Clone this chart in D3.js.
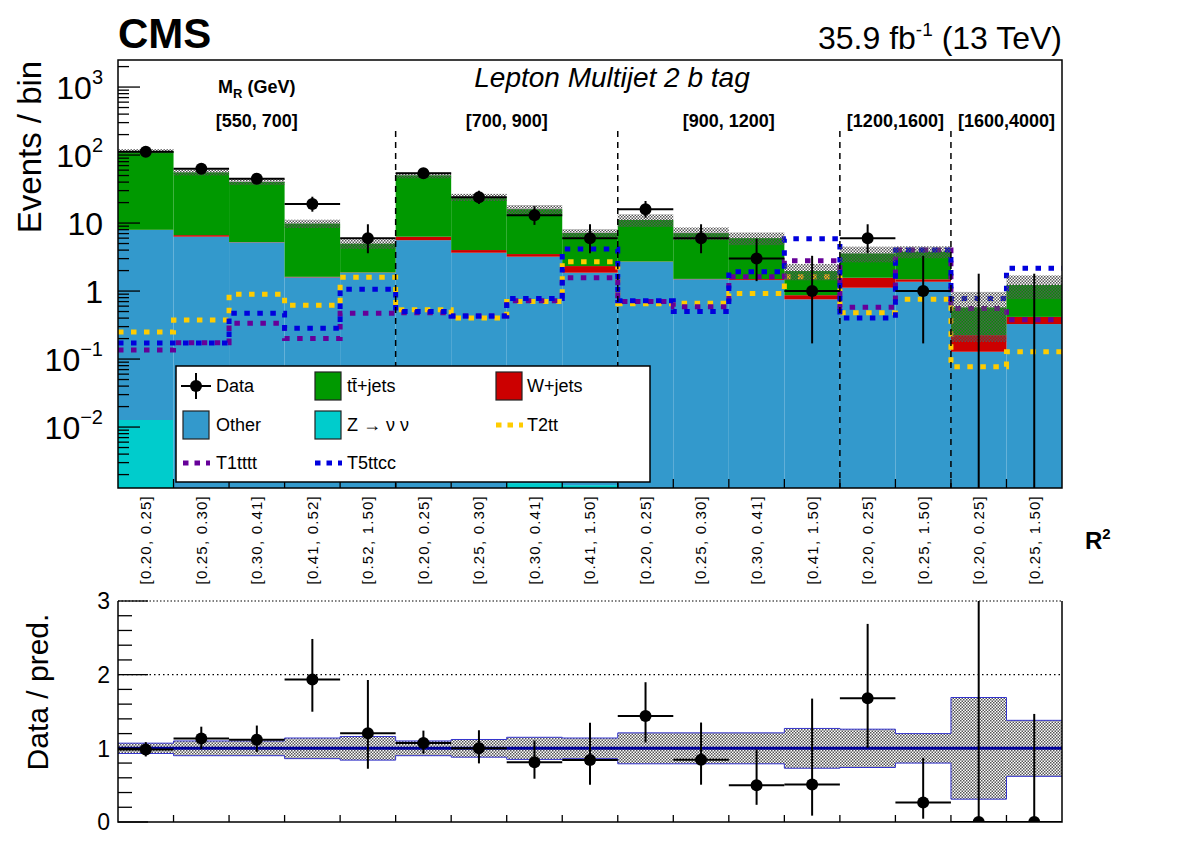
<!DOCTYPE html>
<html>
<head>
<meta charset="utf-8">
<script src="https://cdn.jsdelivr.net/npm/d3@7"></script>
<style>
body { margin: 0; background: #fff; }
text { font-family: "Liberation Sans", Arial, Helvetica, sans-serif; }
</style>
</head>
<body>
<script>
var w = 1182;
var h = 848;

// R^2 bin labels, 17 bins in 5 M_R ranges
var binLabels = ["[0.20, 0.25]", "[0.25, 0.30]", "[0.30, 0.41]", "[0.41, 0.52]", "[0.52, 1.50]",
                 "[0.20, 0.25]", "[0.25, 0.30]", "[0.30, 0.41]", "[0.41, 1.50]",
                 "[0.20, 0.25]", "[0.25, 0.30]", "[0.30, 0.41]", "[0.41, 1.50]",
                 "[0.20, 0.25]", "[0.25, 1.50]",
                 "[0.20, 0.25]", "[0.25, 1.50]"];
var mrLabels = ["[550, 700]", "[700, 900]", "[900, 1200]", "[1200,1600]", "[1600,4000]"];
var mrFirstBin = [0, 5, 9, 13, 15];

// background stack (events / bin)
var zNuNu  = [0.0127, 0, 0, 0, 0, 0, 0, 0.0015, 0.0014, 0, 0, 0, 0, 0, 0, 0, 0];
var other  = [7.9, 6.3, 5.2, 1.59, 1.86, 5.6, 3.66, 3.2, 1.86, 2.7, 1.49, 1.45, 0.755, 1.12, 1.37, 0.128, 0.327];
var wJets  = [0.05, 0.35, 0.05, 0.03, 0.02, 0.7, 0.35, 0.3, 0.47, 0.02, 0.02, 0.05, 0.115, 0.45, 0.12, 0.097, 0.09];
var ttJets = [106, 49, 35, 8.2, 3.1, 44, 20, 12.5, 4.8, 8.4, 5.6, 4.5, 1.1, 2.0, 2.3, 0.35, 0.81];
// relative uncertainty of the prediction
var bkgRelErr = [0.07, 0.1, 0.1, 0.14, 0.16, 0.1, 0.12, 0.15, 0.14, 0.21, 0.21, 0.21, 0.27, 0.26, 0.2, 0.69, 0.38];

// data
var data      = [112, 63, 45, 19, 6, 54, 24, 13, 6, 16, 6, 3, 1, 6, 1, 0, 0];
var dataErrLo = [10.6, 7.9, 6.7, 4.3, 2.4, 7.3, 4.9, 3.6, 2.4, 4.0, 2.4, 1.6, 0.83, 2.4, 0.83, 0, 0];
var dataErrHi = [11.6, 9.0, 7.7, 5.4, 3.6, 8.4, 5.9, 4.7, 3.6, 5.1, 3.6, 2.9, 2.3, 3.6, 2.3, 1.8, 1.8];

// signals
var t2tt   = [0.249, 0.375, 0.90, 0.62, 1.59, 0.53, 0.40, 0.70, 2.7, 0.65, 0.66, 0.92, 1.62, 0.48, 0.755, 0.077, 0.128];
var t1tttt = [0.136, 0.174, 0.335, 0.20, 0.47, 0.48, 0.43, 0.72, 1.57, 0.70, 0.59, 1.62, 2.79, 0.58, 4.0, 0.556, 0.38];
var t5ttcc = [0.172, 0.172, 0.47, 0.283, 1.06, 0.50, 0.43, 0.78, 4.15, 0.72, 0.50, 1.92, 5.9, 0.40, 4.0, 0.78, 2.16];

var nb = binLabels.length;
var left = 118, right = 1062;
var top1 = 60, bot1 = 488;
var top2 = 601, bot2 = 822;
var yMin = 0.00127, yMax = 2500;

var colors = { z: "#00cccc", other: "#3399cc", w: "#cc0000", tt: "#009900",
               t2tt: "#ffcc00", t1tttt: "#660099", t5ttcc: "#0000dd" };

// scales
var xScale = d3.scaleLinear().domain([0, nb]).range([left, right]);
var yScale = d3.scaleLog().domain([yMin, yMax]).range([bot1, top1]).clamp(true);
var rScale = d3.scaleLinear().domain([0, 3]).range([bot2, top2]).clamp(true);
function yv(v) { return v > yMin ? yScale(v) : bot1; }

var svg = d3.select("body").append("svg")
    .attr("width", w).attr("height", h);

var defs = svg.append("defs");
defs.append("clipPath").attr("id", "clipTop").append("rect")
    .attr("x", left).attr("y", top1).attr("width", right - left).attr("height", bot1 - top1);
defs.append("clipPath").attr("id", "clipBot").append("rect")
    .attr("x", left).attr("y", top2).attr("width", right - left).attr("height", bot2 - top2);
var pat = defs.append("pattern").attr("id", "hatch").attr("patternUnits", "userSpaceOnUse")
    .attr("width", 3).attr("height", 3);
pat.append("rect").attr("x", 0).attr("y", 0).attr("width", 1.5).attr("height", 1.5).attr("fill", "#555");
pat.append("rect").attr("x", 1.5).attr("y", 1.5).attr("width", 1.5).attr("height", 1.5).attr("fill", "#555");

// ---------- top panel ----------
var table = binLabels.map(function(l, i) {
    return { bin: i, z: zNuNu[i], other: other[i], w: wJets[i], tt: ttJets[i] };
});
var series = d3.stack().keys(["z", "other", "w", "tt"])(table);
var total = table.map(function(d) { return d.z + d.other + d.w + d.tt; });

var gTop = svg.append("g").attr("clip-path", "url(#clipTop)");

gTop.selectAll("g.layer")
    .data(series)
    .enter().append("g")
    .attr("class", "layer")
    .attr("fill", function(s) { return colors[s.key]; })
    .selectAll("rect")
    .data(function(s) { return s.filter(function(d) { return d[1] > yMin && d[1] > d[0]; }); })
    .enter().append("rect")
    .attr("x", function(d) { return xScale(d.data.bin); })
    .attr("width", function(d) { return xScale(d.data.bin + 1) - xScale(d.data.bin); })
    .attr("y", function(d) { return yv(d[1]); })
    .attr("height", function(d) { return yv(d[0]) - yv(d[1]); });

// signal step lines
function stepPoints(vals) {
    var pts = [];
    vals.forEach(function(v, i) {
        pts.push([xScale(i), yv(v)]);
        pts.push([xScale(i + 1), yv(v)]);
    });
    return pts;
}
var line = d3.line();
[["t2tt", t2tt], ["t1tttt", t1tttt], ["t5ttcc", t5ttcc]].forEach(function(s) {
    gTop.append("path")
        .attr("d", line(stepPoints(s[1])))
        .attr("fill", "none")
        .attr("stroke", colors[s[0]])
        .attr("stroke-width", 5)
        .attr("stroke-dasharray", "5.5,7.5");
});

// prediction uncertainty
gTop.selectAll("rect.unc")
    .data(total)
    .enter().append("rect")
    .attr("class", "unc")
    .attr("x", function(d, i) { return xScale(i); })
    .attr("width", function(d, i) { return xScale(i + 1) - xScale(i); })
    .attr("y", function(d, i) { return yv(d * (1 + bkgRelErr[i])); })
    .attr("height", function(d, i) { return yv(d * (1 - bkgRelErr[i])) - yv(d * (1 + bkgRelErr[i])); })
    .attr("fill", "url(#hatch)");

// M_R dividers
svg.selectAll("line.div")
    .data(mrFirstBin.slice(1))
    .enter().append("line")
    .attr("x1", function(d) { return xScale(d); })
    .attr("x2", function(d) { return xScale(d); })
    .attr("y1", 131).attr("y2", bot1)
    .attr("stroke", "#000").attr("stroke-width", 1.5)
    .attr("stroke-dasharray", "6,5");

// data points
var gData = gTop.append("g").attr("stroke", "#000").attr("stroke-width", 2);
data.forEach(function(d, i) {
    var cx = xScale(i + 0.5);
    gData.append("line")
        .attr("x1", cx).attr("x2", cx)
        .attr("y1", yv(d - dataErrLo[i])).attr("y2", yv(d + dataErrHi[i]));
    if (d > 0) {
        gData.append("line")
            .attr("x1", xScale(i)).attr("x2", xScale(i + 1))
            .attr("y1", yv(d)).attr("y2", yv(d));
        gData.append("circle")
            .attr("cx", cx).attr("cy", yv(d)).attr("r", 6)
            .attr("fill", "#000").attr("stroke", "none");
    }
});

// y axis ticks (log)
var yTicks = [];
for (var k = -3; k <= 3; k++) {
    for (var m = 1; m <= 9; m++) {
        var v = m * Math.pow(10, k);
        if (v >= yMin && v <= yMax) yTicks.push({ v: v, major: m === 1, k: k });
    }
}
svg.selectAll("line.ytick")
    .data(yTicks)
    .enter().append("line")
    .attr("x1", left)
    .attr("x2", function(d) { return left + (d.major ? 22 : 11); })
    .attr("y1", function(d) { return yScale(d.v); })
    .attr("y2", function(d) { return yScale(d.v); })
    .attr("stroke", "#000").attr("stroke-width", 1.3);

var yLab = svg.selectAll("text.ylab")
    .data(yTicks.filter(function(d) { return d.major; }))
    .enter().append("text")
    .attr("x", 103)
    .attr("y", function(d) { return yScale(d.v); })
    .attr("dy", "0.36em")
    .attr("text-anchor", "end")
    .attr("font-size", 32);
yLab.each(function(d) {
    var t = d3.select(this);
    if (d.k === 0) { t.text("1"); return; }
    if (d.k === 1) { t.text("10"); return; }
    t.append("tspan").text("10");
    t.append("tspan").attr("font-size", 20).attr("dy", "-0.75em")
        .text(d.k < 0 ? "\u2212" + (-d.k) : d.k);
});

// x ticks, top panel
svg.selectAll("line.xtick1")
    .data(d3.range(1, nb))
    .enter().append("line")
    .attr("x1", function(d) { return xScale(d); })
    .attr("x2", function(d) { return xScale(d); })
    .attr("y1", bot1).attr("y2", bot1 - 9)
    .attr("stroke", "#000").attr("stroke-width", 1.3);

// frame
svg.append("rect")
    .attr("x", left).attr("y", top1).attr("width", right - left).attr("height", bot1 - top1)
    .attr("fill", "none").attr("stroke", "#000").attr("stroke-width", 1.5);

// bin labels
svg.selectAll("text.binlab")
    .data(binLabels)
    .enter().append("text")
    .attr("transform", function(d, i) { return "translate(" + xScale(i + 0.5) + ",495) rotate(-90)"; })
    .attr("dy", "0.36em")
    .attr("text-anchor", "end")
    .attr("font-size", 15)
    .attr("letter-spacing", 1.2)
    .text(function(d) { return d; });

// M_R labels
var mrTitle = svg.append("text")
    .attr("x", xScale(2.5)).attr("y", 93)
    .attr("text-anchor", "middle").attr("font-size", 18).attr("font-weight", "bold");
mrTitle.append("tspan").text("M");
mrTitle.append("tspan").attr("font-size", 13).attr("dy", 5).text("R");
mrTitle.append("tspan").attr("dy", -5).text(" (GeV)");

svg.selectAll("text.mr")
    .data(mrLabels)
    .enter().append("text")
    .attr("x", function(d, i) {
        var end = i + 1 < mrFirstBin.length ? mrFirstBin[i + 1] : nb;
        return xScale((mrFirstBin[i] + end) / 2);
    })
    .attr("y", 127)
    .attr("text-anchor", "middle")
    .attr("font-size", 18).attr("font-weight", "bold")
    .text(function(d) { return d; });

// titles
svg.append("text").attr("x", left).attr("y", 48)
    .attr("font-size", 42).attr("font-weight", "bold").text("CMS");
var lumi = svg.append("text").attr("x", right).attr("y", 49)
    .attr("text-anchor", "end").attr("font-size", 32);
lumi.append("tspan").text("35.9 fb");
lumi.append("tspan").attr("font-size", 19).attr("dy", -13).text("-1");
lumi.append("tspan").attr("dy", 13).text(" (13 TeV)");

svg.append("text").attr("x", 612).attr("y", 87)
    .attr("text-anchor", "middle").attr("font-size", 28).attr("font-style", "italic")
    .text("Lepton Multijet 2 b tag");

svg.append("text")
    .attr("transform", "translate(41,147) rotate(-90)")
    .attr("text-anchor", "middle").attr("font-size", 33)
    .text("Events / bin");

var r2 = svg.append("text").attr("x", 1085).attr("y", 549)
    .attr("font-size", 24).attr("font-weight", "bold");
r2.append("tspan").text("R");
r2.append("tspan").attr("font-size", 15).attr("dy", -10).text("2");

// legend
var leg = svg.append("g");
leg.append("rect").attr("x", 176).attr("y", 366).attr("width", 474).attr("height", 116)
    .attr("fill", "#fff").attr("stroke", "#000").attr("stroke-width", 1.5);
var legItems = [
    { label: "Data", type: "data", col: 0, row: 0 },
    { label: "tt\u0304+jets", type: "box", color: colors.tt, col: 1, row: 0 },
    { label: "W+jets", type: "box", color: colors.w, col: 2, row: 0 },
    { label: "Other", type: "box", color: colors.other, col: 0, row: 1 },
    { label: "Z \u2192 \u03bd \u03bd", type: "box", color: colors.z, col: 1, row: 1 },
    { label: "T2tt", type: "line", color: colors.t2tt, col: 2, row: 1 },
    { label: "T1tttt", type: "line", color: colors.t1tttt, col: 0, row: 2 },
    { label: "T5ttcc", type: "line", color: colors.t5ttcc, col: 1, row: 2 }
];
var colX = [196, 328, 509];
var colT = [216, 347, 527];
var rowY = [386, 425, 463];
legItems.forEach(function(d) {
    var cx = colX[d.col], cy = rowY[d.row];
    if (d.type === "data") {
        leg.append("line").attr("x1", cx - 15).attr("x2", cx + 15).attr("y1", cy).attr("y2", cy)
            .attr("stroke", "#000").attr("stroke-width", 2);
        leg.append("line").attr("x1", cx).attr("x2", cx).attr("y1", cy - 13).attr("y2", cy + 13)
            .attr("stroke", "#000").attr("stroke-width", 2);
        leg.append("circle").attr("cx", cx).attr("cy", cy).attr("r", 6).attr("fill", "#000");
    } else if (d.type === "box") {
        leg.append("rect").attr("x", cx - 13).attr("y", cy - 14).attr("width", 26).attr("height", 28)
            .attr("fill", d.color).attr("stroke", "#222").attr("stroke-width", 1.2);
    } else {
        leg.append("line").attr("x1", cx - 13).attr("x2", cx + 14).attr("y1", cy).attr("y2", cy)
            .attr("stroke", d.color).attr("stroke-width", 5).attr("stroke-dasharray", "5.5,6");
    }
    leg.append("text").attr("x", colT[d.col]).attr("y", cy).attr("dy", "0.36em")
        .attr("font-size", 18).text(d.label);
});

// ---------- ratio panel ----------
var gBot = svg.append("g").attr("clip-path", "url(#clipBot)");

gBot.selectAll("rect.runc")
    .data(bkgRelErr)
    .enter().append("rect")
    .attr("x", function(d, i) { return xScale(i); })
    .attr("width", function(d, i) { return xScale(i + 1) - xScale(i); })
    .attr("y", function(d) { return rScale(1 + d); })
    .attr("height", function(d) { return rScale(1 - d) - rScale(1 + d); })
    .attr("fill", "url(#hatch)");

var upPts = [], loPts = [];
bkgRelErr.forEach(function(e, i) {
    upPts.push([xScale(i), rScale(1 + e)], [xScale(i + 1), rScale(1 + e)]);
    loPts.push([xScale(i), rScale(1 - e)], [xScale(i + 1), rScale(1 - e)]);
});
[upPts, loPts].forEach(function(p) {
    gBot.append("path").attr("d", line(p)).attr("fill", "none")
        .attr("stroke", "#3333cc").attr("stroke-width", 1);
});

gBot.append("line").attr("x1", left).attr("x2", right)
    .attr("y1", rScale(1)).attr("y2", rScale(1))
    .attr("stroke", "#000099").attr("stroke-width", 3);

gBot.append("line").attr("x1", left).attr("x2", right)
    .attr("y1", rScale(2)).attr("y2", rScale(2))
    .attr("stroke", "#000").attr("stroke-width", 1.2).attr("stroke-dasharray", "1.5,3");

var gRat = gBot.append("g").attr("stroke", "#000").attr("stroke-width", 2);
data.forEach(function(d, i) {
    var p = total[i];
    var cx = xScale(i + 0.5);
    var r = d / p;
    gRat.append("line").attr("x1", cx).attr("x2", cx)
        .attr("y1", rScale(r - dataErrLo[i] / p)).attr("y2", rScale(r + dataErrHi[i] / p));
    gRat.append("line").attr("x1", xScale(i)).attr("x2", xScale(i + 1))
        .attr("y1", rScale(r)).attr("y2", rScale(r));
    gRat.append("circle").attr("cx", cx).attr("cy", rScale(r)).attr("r", 6)
        .attr("fill", "#000").attr("stroke", "none");
});

// ratio y ticks
var rTicks = d3.range(0, 3.01, 0.2).map(function(v) { return +v.toFixed(1); });
svg.selectAll("line.rtick")
    .data(rTicks)
    .enter().append("line")
    .attr("x1", left)
    .attr("x2", function(d) { return left + (d % 1 === 0 ? 30 : 14); })
    .attr("y1", function(d) { return rScale(d); })
    .attr("y2", function(d) { return rScale(d); })
    .attr("stroke", "#000").attr("stroke-width", 1.3);
svg.selectAll("text.rlab")
    .data([0, 1, 2, 3])
    .enter().append("text")
    .attr("x", 110).attr("y", function(d) { return rScale(d); })
    .attr("dy", "0.36em").attr("text-anchor", "end").attr("font-size", 23)
    .text(function(d) { return d; });

svg.selectAll("line.xtick2")
    .data(d3.range(1, nb))
    .enter().append("line")
    .attr("x1", function(d) { return xScale(d); })
    .attr("x2", function(d) { return xScale(d); })
    .attr("y1", bot2).attr("y2", bot2 - 7)
    .attr("stroke", "#000").attr("stroke-width", 1.3);

// ratio frame: top dotted
svg.append("path")
    .attr("d", "M" + left + "," + top2 + "V" + bot2 + "H" + right + "V" + top2)
    .attr("fill", "none").attr("stroke", "#000").attr("stroke-width", 1.5);
svg.append("line").attr("x1", left).attr("x2", right).attr("y1", top2).attr("y2", top2)
    .attr("stroke", "#000").attr("stroke-width", 1.2).attr("stroke-dasharray", "1.5,2");

svg.append("text")
    .attr("transform", "translate(48,692) rotate(-90)")
    .attr("text-anchor", "middle").attr("font-size", 30)
    .text("Data / pred.");
</script>
</body>
</html>
